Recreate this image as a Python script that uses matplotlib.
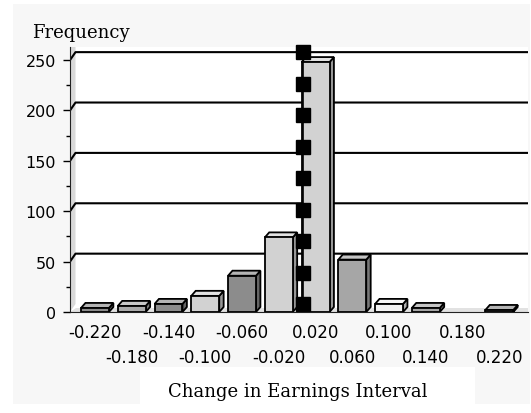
import numpy as np
import matplotlib
matplotlib.use("Agg")
import matplotlib.pyplot as plt
from matplotlib.patches import Rectangle, Polygon
import matplotlib.colors as mcolors

# earnings-change intervals (bin midpoints) and counts
intervals = ["-0.220", "-0.180", "-0.140", "-0.100", "-0.060", "-0.020",
             "0.020", "0.060", "0.100", "0.140", "0.180", "0.220"]
frequency = [4, 6, 8, 16, 36, 74, 248, 52, 8, 4, 0, 2]

# marker series drawn at zero change
zero_change = 0.0
zero_marks = [0, 31.25, 62.5, 93.75, 125, 156.25, 187.5, 218.75, 250]

bar_colors = ["#8c8c8c", "#ababab", "#8c8c8c", "#d2d2d2", "#8c8c8c", "#d2d2d2",
              "#d2d2d2", "#a6a6a6", "#f2f2f2", "#a6a6a6", "#8c8c8c", "#8c8c8c"]

W, H = 531, 414
fig = plt.figure(figsize=(W / 100, H / 100), dpi=100)
fig.patch.set_facecolor("white")


def fx(px):
    return px / W


def fy(py):
    return 1 - py / H


# pale panel behind the chart, white box under the axis title
fig.add_artist(Rectangle((fx(13), fy(405)), fx(530) - fx(13), fy(5) - fy(405),
                         transform=fig.transFigure, facecolor="#f7f7f7",
                         edgecolor="none", zorder=0))
fig.add_artist(Rectangle((fx(140), fy(405)), fx(475) - fx(140), fy(368) - fy(405),
                         transform=fig.transFigure, facecolor="white",
                         edgecolor="none", zorder=0))

ax = fig.add_axes([fx(70), fy(313), fx(528) - fx(70), fy(48) - fy(313)])
ax.set_facecolor("white")
xmin, xmax = -0.68, 11.78
ymax = 263
ax.set_xlim(xmin, xmax)
ax.set_ylim(0, ymax)

# depth of the back wall and of the bars (data units)
wall_dx, wall_dy = 0.15, 7.9
bar_dx, bar_dy = 0.12, 5.0
width = 0.76

# left wall and floor
ax.add_patch(Polygon([(xmin, 0), (xmin + wall_dx, wall_dy), (xmin + wall_dx, ymax),
                      (xmin, ymax)], closed=True, facecolor="#d9d9d9",
                     edgecolor="none", zorder=1))
ax.add_patch(Polygon([(xmin, 0), (xmax, 0), (xmax, 3.5), (xmin + wall_dx, 3.5)],
                     closed=True, facecolor="#e2e2e2", edgecolor="none", zorder=1))

# gridlines on the back wall
for g in range(50, 251, 50):
    ax.plot([xmin, xmin + wall_dx, xmax], [g, g + wall_dy, g + wall_dy],
            color="black", lw=1.5, zorder=2, solid_capstyle="butt")

x = np.arange(len(frequency))
for xi, v, c in zip(x, frequency, bar_colors):
    if v <= 0:
        continue
    rgb = np.array(mcolors.to_rgb(c))
    top_c = np.clip(rgb + (1 - rgb) * 0.35, 0, 1)
    side_c = rgb * 0.72
    x0, x1 = xi - width / 2, xi + width / 2
    ax.add_patch(Polygon([(x1, 0), (x1 + bar_dx, bar_dy), (x1 + bar_dx, v + bar_dy), (x1, v)],
                         closed=True, facecolor=side_c, edgecolor="black", lw=1.3, zorder=3))
    ax.add_patch(Polygon([(x0, v), (x1, v), (x1 + bar_dx, v + bar_dy), (x0 + bar_dx, v + bar_dy)],
                         closed=True, facecolor=top_c, edgecolor="black", lw=1.3, zorder=3))
    ax.add_patch(Rectangle((x0, 0), width, v, facecolor=c, edgecolor="black",
                           lw=1.3, zorder=4))

# zero-change marker line, on the back wall
mids = [float(s) for s in intervals]
zero_pos = np.interp(zero_change, mids, x)
ax.plot([zero_pos + wall_dx] * len(zero_marks), np.array(zero_marks) + wall_dy,
        color="black", lw=1.2, marker="s", markersize=10, zorder=6, clip_on=False)

# axes styling
for s in ["top", "right"]:
    ax.spines[s].set_visible(False)
ax.spines["left"].set_color("#222222")
ax.spines["bottom"].set_color("#222222")
ax.spines["left"].set_zorder(7)
ax.spines["bottom"].set_zorder(7)

ax.set_yticks(range(0, 251, 50))
ax.set_yticks(range(25, 251, 50), minor=True)
ax.tick_params(axis="y", which="major", direction="out", length=5, width=1,
               pad=5, labelsize=11.5, colors="black")
ax.tick_params(axis="y", which="minor", direction="out", length=3, width=1)

ax.set_xticks(x)
ax.set_xticklabels(intervals)
ax.tick_params(axis="x", length=0, labelsize=12)
for i, t in enumerate(ax.xaxis.get_major_ticks()):
    t.set_pad(8 if i % 2 == 0 else 26)

fig.text(fx(32), fy(33), "Frequency", family="DejaVu Serif", fontsize=13,
         ha="left", va="center")
fig.text(fx(298), fy(392), "Change in Earnings Interval", family="DejaVu Serif",
         fontsize=13, ha="center", va="center")

fig.savefig("out.png", dpi=100, facecolor=fig.get_facecolor())
